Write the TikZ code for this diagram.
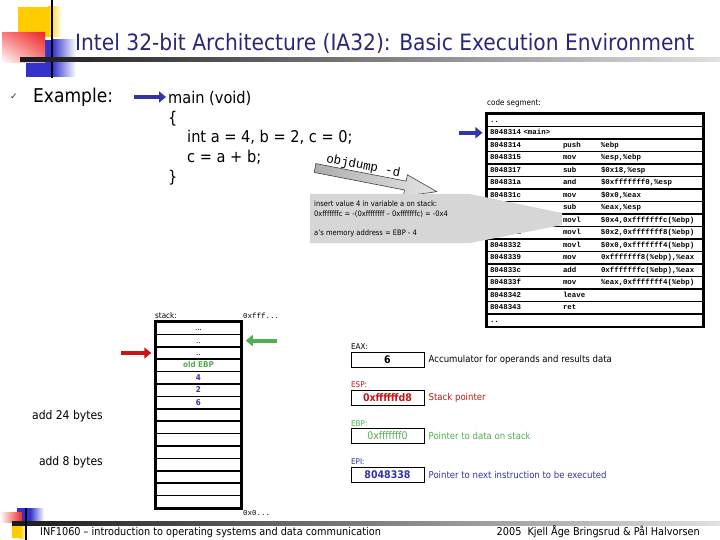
\documentclass[tikz,border=0pt]{standalone}
\usepackage{fontspec}
\setmainfont{DejaVu Sans Condensed}
\setmonofont{Liberation Mono}
\newfontfamily\symfont{DejaVu Sans}
\usetikzlibrary{arrows.meta,shadings}
\definecolor{titleblue}{RGB}{40,40,120}
\definecolor{ptrblue}{RGB}{51,51,170}
\definecolor{ebpgreen}{RGB}{80,175,80}
\definecolor{espred}{RGB}{200,20,20}
\definecolor{calloutgray}{RGB}{214,214,214}
\definecolor{decoyellow}{RGB}{255,204,0}
\definecolor{decoblue}{RGB}{51,51,204}
\definecolor{decored}{RGB}{240,40,40}
\newcommand{\asmrow}[3]{\makebox[73pt][l]{#1}\makebox[38pt][l]{#2}#3}
\newcommand{\setfs}[1]{\fontsize{#1}{#1}\selectfont}

\begin{document}
\begin{tikzpicture}[x=1pt,y=-1pt,coderow/.style={draw,line width=1.1pt,minimum width=216pt,minimum height=12.5pt,text width=210pt,align=left,inner xsep=3pt,inner ysep=0pt,text height=5pt,text depth=1pt,font=\ttfamily\bfseries\setfs{7.4}},stackrow/.style={draw,line width=1.5pt,minimum width=85pt,minimum height=12.4pt,inner sep=0pt,text height=5.5pt,text depth=0.5pt,font=\bfseries\setfs{8}},reg/.style={draw,line width=1pt,minimum width=73pt,minimum height=15pt,inner sep=0pt,font=\bfseries\setfs{10.5}},reglabel/.style={anchor=base west,inner sep=0pt,font=\setfs{8}},regnote/.style={anchor=west,inner sep=0pt,xshift=4pt,font=\setfs{9.5}},pointer/.style={line width=4pt,-{Triangle[length=7pt,width=11pt]}},codeline/.style={anchor=base west,inner sep=0pt,font=\setfs{16.2}},small/.style={anchor=base west,inner sep=0pt,font=\setfs{8}}]
\path[use as bounding box,fill=white] (0,0) rectangle (720,540);
\fill[decoyellow] (18,7) rectangle (48,37);
\shade[left color=decoyellow,right color=white] (48,7) rectangle (62,37);
\fill[decoblue] (26,40) rectangle (52,77);
\shade[left color=decoblue,right color=white] (52,40) rectangle (76,77);
\shade[upper right=decored,upper left=decored!60!white,lower right=decored!55!white,lower left=white] (2,33) rectangle (45,63);
\draw[line width=1.5pt] (52,0) -- (52,78);
\shade[left color=black!90,middle color=black!80,right color=black!12] (20,58) rectangle (720,62);
\node[anchor=base west,inner sep=0pt,font=\setfs{22.5},text=titleblue] (title) at (75,51) {Intel 32-bit Architecture (IA32): Basic Execution Environment};
\fill[decoblue] (17,508) rectangle (30,522);
\shade[left color=decoblue,right color=white] (30,508) rectangle (44,522);
\shade[left color=white,right color=decored] (0,512) rectangle (22,522);
\fill[decoyellow] (12,526) rectangle (20,538);
\shade[left color=decoyellow,right color=white] (20,526) rectangle (27,538);
\shade[left color=black!90,middle color=black!80,right color=black!12] (12,521) rectangle (720,525);
\draw[line width=1.5pt] (26,508) -- (26,540);
\node[anchor=base west,inner sep=0pt,font=\setfs{10.8}] (course) at (40,535) {INF1060 -- introduction to operating systems and data communication};
\node[anchor=base east,inner sep=0pt,font=\setfs{10.8}] (authors) at (700,535) {2005\ \ Kjell Åge Bringsrud \& Pål Halvorsen};
\node[inner sep=0pt,font=\symfont\setfs{9},text=titleblue] (tick) at (14,97) {✓};
\node[anchor=base west,inner sep=0pt,font=\setfs{19}] (example) at (33,103) {Example:};
\node[codeline] (fmain) at (168,104) {main (void)};
\node[codeline] (fopen) at (168,124) {\{};
\node[codeline] (fint) at (187,143) {int a = 4, b = 2, c = 0;};
\node[codeline] (fsum) at (187,163) {c = a + b;};
\node[codeline] (fclose) at (168,183) {\}};
\coordinate (mainfrom) at (134,97);
\draw[pointer,ptrblue,shorten >=2pt] (mainfrom) -- (mainfrom -| fmain.west);
\node[small] (seglbl) at (487,106) {code segment:};
\node[coderow] (c1) at (595,120.25) {..};
\node[coderow] (c2) at (595,132.75) {8048314 <main>};
\node[coderow] (c3) at (595,145.25) {\asmrow{8048314}{push}{\%ebp}};
\node[coderow] (c4) at (595,157.75) {\asmrow{8048315}{mov}{\%esp,\%ebp}};
\node[coderow] (c5) at (595,170.25) {\asmrow{8048317}{sub}{\$0x18,\%esp}};
\node[coderow] (c6) at (595,182.75) {\asmrow{804831a}{and}{\$0xfffffff0,\%esp}};
\node[coderow] (c7) at (595,195.25) {\asmrow{804831c}{mov}{\$0x0,\%eax}};
\node[coderow] (c8) at (595,207.75) {\asmrow{8048321}{sub}{\%eax,\%esp}};
\node[coderow] (c9) at (595,220.25) {\asmrow{8048323}{movl}{\$0x4,0xfffffffc(\%ebp)}};
\node[coderow] (c10) at (595,232.75) {\asmrow{804832a}{movl}{\$0x2,0xfffffff8(\%ebp)}};
\node[coderow] (c11) at (595,245.25) {\asmrow{8048332}{movl}{\$0x0,0xfffffff4(\%ebp)}};
\node[coderow] (c12) at (595,257.75) {\asmrow{8048339}{mov}{0xfffffff8(\%ebp),\%eax}};
\node[coderow] (c13) at (595,270.25) {\asmrow{804833c}{add}{0xfffffffc(\%ebp),\%eax}};
\node[coderow] (c14) at (595,282.75) {\asmrow{804833f}{mov}{\%eax,0xfffffff4(\%ebp)}};
\node[coderow] (c15) at (595,295.25) {\asmrow{8048342}{leave}{}};
\node[coderow] (c16) at (595,307.75) {\asmrow{8048343}{ret}{}};
\node[coderow] (c17) at (595,320.25) {..};
\draw[line width=2.4pt] (c1.north west) rectangle (c17.south east);
\coordinate (segfrom) at (459,132.75);
\draw[pointer,ptrblue,shorten >=4pt] (segfrom) -- (c2.west);
\begin{scope}[shift={(315,168)},rotate=-11]
\shade[left color=black!32,right color=black!10,draw=black!75,line width=0.6pt] (0,-4.5) -- (92,-4.5) -- (92,-11) -- (124,0) -- (92,11) -- (92,4.5) -- (0,4.5) -- cycle;
\node[rotate=-11,inner sep=0pt,font=\ttfamily\setfs{12.5}] (objlbl) at (47,-11) {objdump -d};
\end{scope}
\fill[calloutgray] (310,194) -- (470,194) -- (562,213) -- (562,225) -- (470,243) -- (310,243) -- cycle;
\node[anchor=north west,align=left,inner sep=0pt,font=\fontsize{7.5}{9.5}\selectfont] (note) at (314,201) {insert value 4 in variable a on stack:\\0xfffffffc = -(0xffffffff -- 0xfffffffc) = -0x4\\[9.5pt]a's memory address = EBP - 4};
\node[small] (stacklbl) at (155,318) {stack:};
\node[small,font=\ttfamily\setfs{7.5}] (stacktop) at (243,318) {0xfff...};
\node[stackrow] (s1) at (198.5,328.2) {\mdseries...};
\node[stackrow] (s2) at (198.5,340.6) {\mdseries..};
\node[stackrow] (s3) at (198.5,353) {\mdseries..};
\node[stackrow,text=ebpgreen] (s4) at (198.5,365.4) {old EBP};
\node[stackrow,text=ptrblue] (s5) at (198.5,377.8) {4};
\node[stackrow,text=ptrblue] (s6) at (198.5,390.2) {2};
\node[stackrow,text=ptrblue] (s7) at (198.5,402.6) {6};
\node[stackrow] (s8) at (198.5,415) {};
\node[stackrow] (s9) at (198.5,427.4) {};
\node[stackrow] (s10) at (198.5,439.8) {};
\node[stackrow] (s11) at (198.5,452.2) {};
\node[stackrow] (s12) at (198.5,464.6) {};
\node[stackrow] (s13) at (198.5,477) {};
\node[stackrow] (s14) at (198.5,489.4) {};
\node[stackrow] (s15) at (198.5,501.8) {};
\draw[line width=2.4pt] (s1.north west) rectangle (s15.south east);
\node[small,font=\ttfamily\setfs{7.5}] (stackbot) at (243,515) {0x0...};
\coordinate (espfrom) at (121,353);
\draw[pointer,espred,shorten >=4pt] (espfrom) -- (s3.west);
\coordinate (ebpfrom) at (277,340.6);
\draw[pointer,ebpgreen,shorten >=4pt] (ebpfrom) -- (s2.east);
\node[anchor=base east,inner sep=0pt,font=\setfs{12}] (add24) at (103,419) {add 24 bytes};
\node[anchor=base east,inner sep=0pt,font=\setfs{12}] (add8) at (103,465) {add 8 bytes};
\node[reglabel] (eaxlbl) at (351,349) {EAX:};
\node[reg] (eax) at (387.5,360) {6};
\node[regnote] (eaxnote) at (eax.east) {Accumulator for operands and results data};
\node[reglabel,text=espred] (esplbl) at (351,387) {ESP:};
\node[reg,text=espred] (esp) at (387.5,397.5) {0xffffffd8};
\node[regnote,text=espred] (espnote) at (esp.east) {Stack pointer};
\node[reglabel,text=ebpgreen] (ebplbl) at (351,426) {EBP:};
\node[reg,text=ebpgreen,font=\setfs{10.5}] (ebp) at (387.5,435.5) {0xfffffff0};
\node[regnote,text=ebpgreen] (ebpnote) at (ebp.east) {Pointer to data on stack};
\node[reglabel,text=ptrblue] (epilbl) at (351,464) {EPI:};
\node[reg,text=ptrblue] (epi) at (387.5,474.5) {8048338};
\node[regnote,text=ptrblue] (epinote) at (epi.east) {Pointer to next instruction to be executed};
\end{tikzpicture}
\end{document}
